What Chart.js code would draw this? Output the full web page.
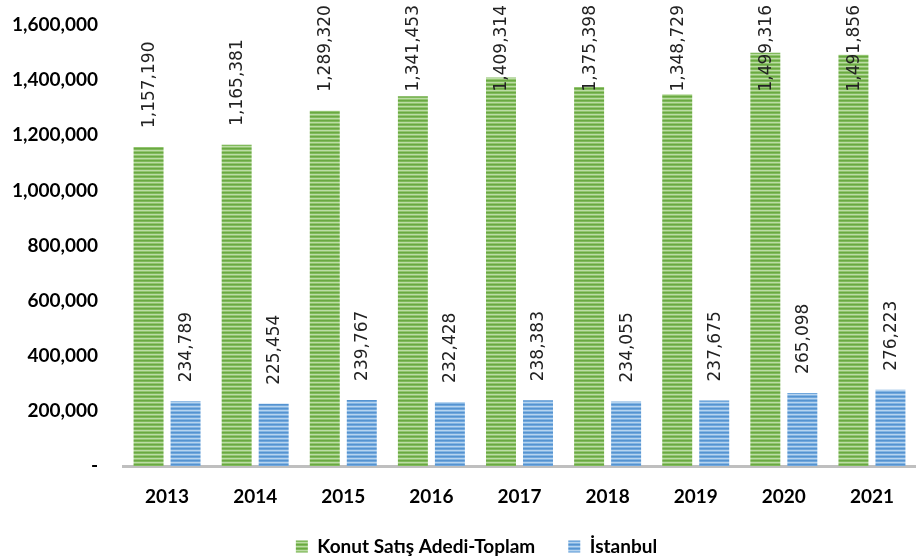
<!DOCTYPE html>
<html>
<head>
<meta charset="utf-8">
<script src="https://cdn.jsdelivr.net/npm/chart.js@4"></script>
<style>
    html, body { margin: 0; padding: 0; background: #fff; }
    #wrap { width: 916px; height: 556px; }
</style>
</head>
<body>
<div id="wrap"><canvas id="myChart" width="916" height="556"></canvas></div>
<script>
const years = ['2013', '2014', '2015', '2016', '2017', '2018', '2019', '2020', '2021'];
const toplam = [1157190, 1165381, 1289320, 1341453, 1409314, 1375398, 1348729, 1499316, 1491856];
const istanbul = [234789, 225454, 239767, 232428, 238383, 234055, 237675, 265098, 276223];
const yTicks = [0, 200000, 400000, 600000, 800000, 1000000, 1200000, 1400000, 1600000];

// striped fill like the excel bars
const stripes = (rows) => {
    const c = document.createElement('canvas');
    c.width = 1;
    c.height = rows.length;
    const cx = c.getContext('2d');
    rows.forEach((col, i) => {
        cx.fillStyle = col;
        cx.fillRect(0, i, 1, 1);
    });
    return cx.createPattern(c, 'repeat');
};

const greenFill = stripes(['#6aa842', '#80ba5b', '#bcdca6', '#92c56f']);
const blueFill = stripes(['#5593d0', '#70a7dc', '#b7d4ef', '#84b5e3']);

const fmt = (v) => v.toLocaleString('en-US');

// vertical value labels above the bars, kept inside the canvas top
const barLabels = {
    id: 'barLabels',
    afterLayout(chart) {
        // legend sits a bit right of the canvas middle in the original
        chart.legend.left += 37;
    },
    afterDatasetsDraw(chart) {
        const ctx = chart.ctx;
        ctx.save();
        ctx.font = '17px "DejaVu Sans"';
        ctx.fillStyle = '#222';
        ctx.textAlign = 'left';
        ctx.textBaseline = 'middle';
        chart.data.datasets.forEach((ds, i) => {
            chart.getDatasetMeta(i).data.forEach((bar, j) => {
                const txt = fmt(ds.data[j]);
                const w = ctx.measureText(txt).width;
                let end = bar.y - 19;
                if (end - w < 5) end = 5 + w;
                ctx.save();
                ctx.translate(bar.x + 1, end);
                ctx.rotate(-Math.PI / 2);
                ctx.fillText(txt, 0, 0);
                ctx.restore();
            });
        });
        ctx.restore();
    }
};

const ctx = document.getElementById('myChart').getContext('2d');

const myChart = new Chart(ctx, {
    type: 'bar',
    data: {
        labels: years,
        datasets: [{
            label: 'Konut Satış Adedi-Toplam',
            data: toplam,
            backgroundColor: greenFill,
            borderWidth: 0,
            categoryPercentage: 0.84,
            barPercentage: 0.81
        }, {
            label: 'İstanbul',
            data: istanbul,
            backgroundColor: blueFill,
            borderWidth: 0,
            categoryPercentage: 0.84,
            barPercentage: 0.81
        }]
    },
    options: {
        responsive: false,
        animation: false,
        layout: {
            padding: { top: 25, right: 0, bottom: -10, left: 0 }
        },
        plugins: {
            legend: {
                position: 'bottom',
                labels: {
                    boxWidth: 12,
                    boxHeight: 12,
                    padding: 33,
                    color: '#000',
                    font: { family: 'Lato', size: 19, weight: 'bold' }
                }
            },
            tooltip: { enabled: false }
        },
        scales: {
            x: {
                afterFit: (s) => {
                    s.height = 38;
                },
                grid: { display: false, drawTicks: false },
                border: { display: true, color: '#bfbfbf', width: 3 },
                ticks: {
                    padding: 19,
                    color: '#000',
                    font: { family: 'Lato', size: 19, weight: 'bold' }
                }
            },
            y: {
                min: 0,
                max: 1600000,
                afterBuildTicks: (s) => {
                    s.ticks = yTicks.map(v => ({ value: v }));
                },
                afterFit: (s) => {
                    s.width = 123;
                    s.paddingTop = 0;
                    s.paddingBottom = 0;
                },
                grid: { display: false, drawTicks: false },
                border: { display: false },
                ticks: {
                    padding: 25,
                    color: '#000',
                    font: { family: 'Lato', size: 19, weight: 'bold' },
                    callback: (v) => v === 0 ? '-' : fmt(v)
                }
            }
        }
    },
    plugins: [barLabels]
});
</script>
</body>
</html>
